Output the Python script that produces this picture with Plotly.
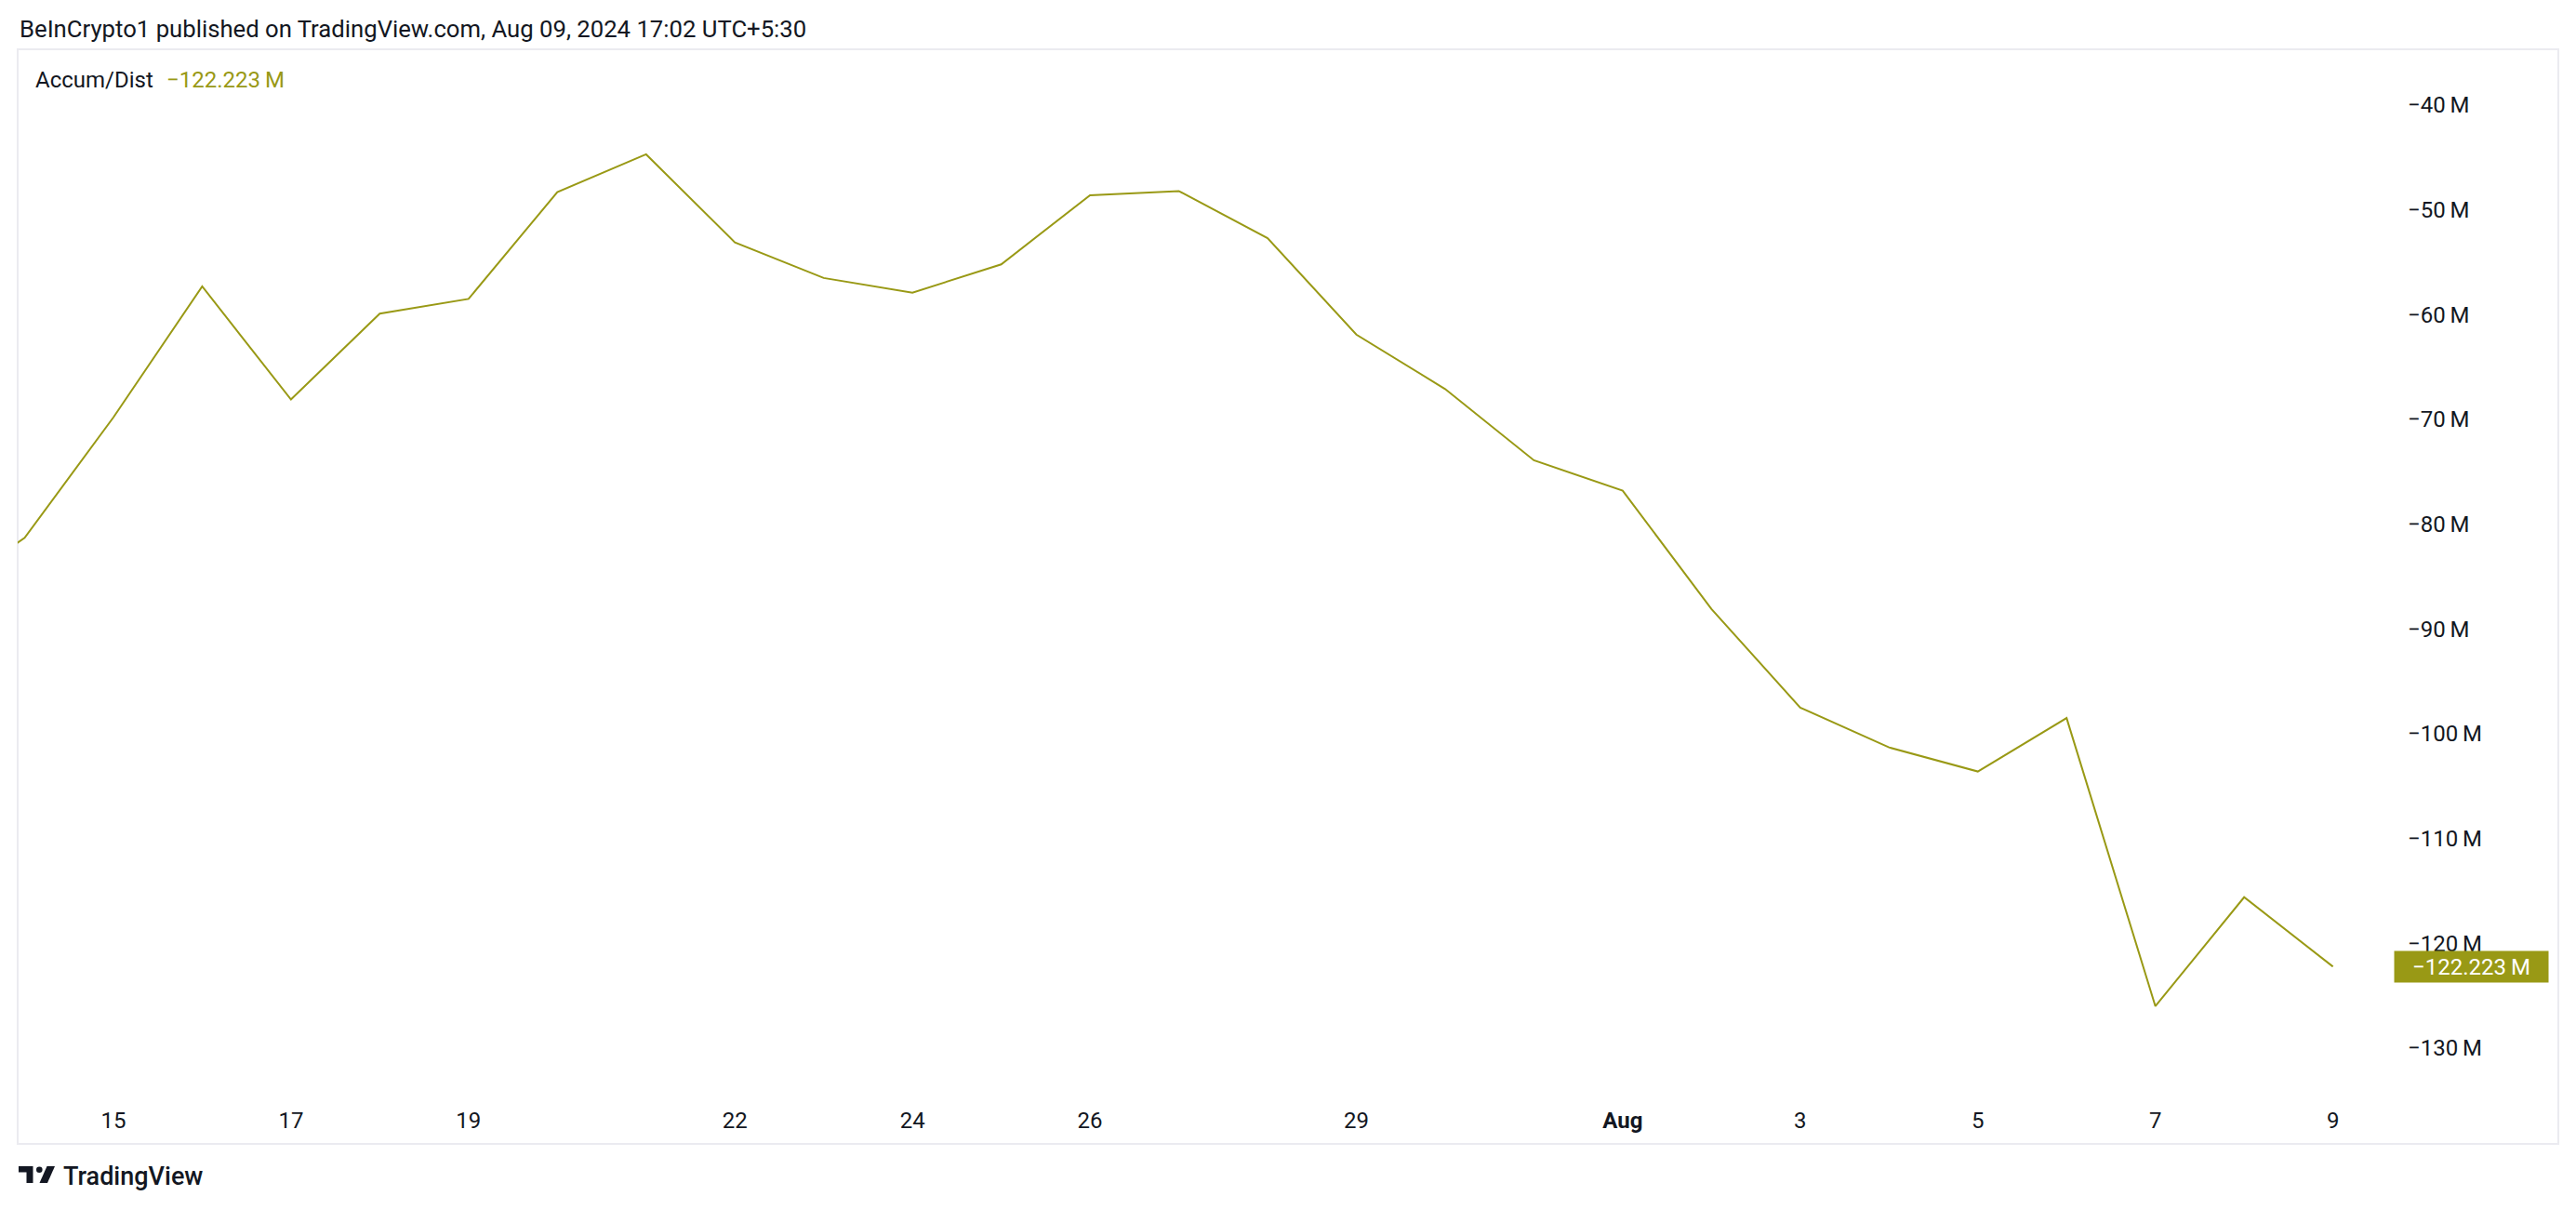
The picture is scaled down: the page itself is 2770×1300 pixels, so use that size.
import plotly.graph_objects as go

# ---------------- data ----------------
dates = ["2024-07-13", "2024-07-14", "2024-07-15", "2024-07-16", "2024-07-17", "2024-07-18",
         "2024-07-19", "2024-07-20", "2024-07-21", "2024-07-22", "2024-07-23", "2024-07-24",
         "2024-07-25", "2024-07-26", "2024-07-27", "2024-07-28", "2024-07-29", "2024-07-30",
         "2024-07-31", "2024-08-01", "2024-08-02", "2024-08-03", "2024-08-04", "2024-08-05",
         "2024-08-06", "2024-08-07", "2024-08-08", "2024-08-09"]
accum_dist = [-87.2, -81.3, -69.8, -57.3, -68.1, -59.9,
              -58.5, -48.3, -44.7, -53.1, -56.5, -57.9,
              -55.2, -48.6, -48.2, -52.7, -61.9, -67.1,
              -73.9, -76.8, -88.1, -97.5, -101.3, -103.6,
              -98.5, -126.0, -115.6, -122.223]
last_value_text = "\u2212122.223\u2009M"

x_tick_vals = ["2024-07-15", "2024-07-17", "2024-07-19", "2024-07-22", "2024-07-24",
               "2024-07-26", "2024-07-29", "2024-08-01", "2024-08-03", "2024-08-05",
               "2024-08-07", "2024-08-09"]
x_tick_text = ["15", "17", "19", "22", "24", "26", "29", "<b>Aug</b>", "3", "5", "7", "9"]
y_tick_vals = [-40, -50, -60, -70, -80, -90, -100, -110, -120, -130]
y_tick_text = ["\u2212%d\u2009M" % abs(v) for v in y_tick_vals]

title_text = "BeInCrypto1 published on TradingView.com, Aug 09, 2024 17:02 UTC+5:30"
legend_name = "Accum/Dist"

# ---------------- layout helpers ----------------
W, H = 2770, 1300
def px(x):
    return x / W
def py(y):
    return 1 - y / H

LINE = "#999915"
TXT = "#131722"
FONT = "Roboto"

plot_left, plot_right = 19, 2574
plot_top, plot_bottom = 53, 1170
# value mapping: -40 M at y=113, -130 M at y=1127
ppm = (1127 - 113) / 90.0
y_top_val = -40 + (113 - plot_top) / ppm
y_bot_val = -130 - (plot_bottom - 1127) / ppm

fig = go.Figure()
fig.add_trace(go.Scatter(x=dates, y=accum_dist, mode="lines",
                         line=dict(color=LINE, width=2), hoverinfo="skip",
                         showlegend=False))

fig.update_layout(
    width=W, height=H,
    margin=dict(l=0, r=0, t=0, b=0),
    paper_bgcolor="white", plot_bgcolor="white",
    font=dict(family=FONT, color=TXT, size=24),
    xaxis=dict(
        domain=[px(plot_left), px(plot_right)],
        type="date",
        range=["2024-07-13 22:07", "2024-08-09 16:26"],
        tickmode="array", tickvals=x_tick_vals, ticktext=x_tick_text,
        showgrid=False, zeroline=False, showline=False, ticks="",
        tickfont=dict(size=24, color=TXT, family=FONT),
        ticklabelstandoff=18,
    ),
    yaxis=dict(
        domain=[py(plot_bottom), py(plot_top)],
        side="right",
        range=[y_bot_val, y_top_val],
        tickmode="array", tickvals=y_tick_vals, ticktext=y_tick_text,
        showgrid=False, zeroline=False, showline=False, ticks="",
        tickfont=dict(size=24, color=TXT, family=FONT),
        ticklabelstandoff=14,
    ),
)

shapes = []
# chart frame
shapes.append(dict(type="rect", xref="paper", yref="paper",
                   x0=px(19), x1=px(2751), y0=py(1230), y1=py(53),
                   line=dict(color="#ebebf0", width=2), fillcolor="rgba(0,0,0,0)", layer="below"))
# TradingView logo icon
shapes.append(dict(type="path", xref="paper", yref="paper",
                   path="M %f,%f L %f,%f L %f,%f L %f,%f L %f,%f L %f,%f Z" % (
                       px(20), py(1254), px(35.5), py(1254), px(35.5), py(1272),
                       px(28.5), py(1272), px(28.5), py(1260.5), px(20), py(1260.5)),
                   fillcolor=TXT, line=dict(width=0)))
shapes.append(dict(type="circle", xref="paper", yref="paper",
                   x0=px(39), x1=px(45.6), y0=py(1261), y1=py(1254.4),
                   fillcolor=TXT, line=dict(width=0)))
shapes.append(dict(type="path", xref="paper", yref="paper",
                   path="M %f,%f L %f,%f L %f,%f L %f,%f Z" % (
                       px(50.5), py(1254), px(59), py(1254), px(51), py(1272), px(42.5), py(1272)),
                   fillcolor=TXT, line=dict(width=0)))
fig.update_layout(shapes=shapes)

annotations = [
    dict(text=title_text, xref="paper", yref="paper", x=px(19), y=py(31),
         xanchor="left", yanchor="middle", showarrow=False,
         font=dict(size=25.7, color=TXT, family=FONT)),
    dict(text=legend_name, xref="paper", yref="paper", x=px(36), y=py(86),
         xanchor="left", yanchor="middle", showarrow=False,
         font=dict(size=24, color=TXT, family=FONT)),
    dict(text=last_value_text, xref="paper", yref="paper", x=px(177), y=py(86),
         xanchor="left", yanchor="middle", showarrow=False,
         font=dict(size=24, color=LINE, family=FONT)),
    dict(text=last_value_text, xref="paper", yref="y", x=px(2574), y=accum_dist[-1],
         xanchor="left", yanchor="middle", showarrow=False,
         width=165, height=33, borderpad=0, align="center",
         bgcolor=LINE, font=dict(size=24, color="white", family=FONT)),
    dict(text="TradingView", xref="paper", yref="paper", x=px(66), y=py(1265),
         xanchor="left", yanchor="middle", showarrow=False,
         font=dict(size=27, color=TXT, family=FONT, weight=500)),
]
fig.update_layout(annotations=annotations)

fig.write_html("out.html", config={"displayModeBar": False},
               post_script="document.body.style.margin='0';document.body.style.overflow='hidden';")
